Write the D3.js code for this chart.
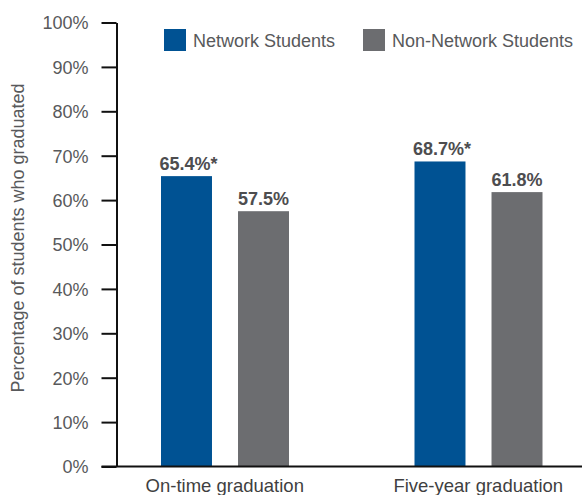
<!DOCTYPE html>
<html>
<head>
<meta charset="utf-8">
<script src="https://cdn.jsdelivr.net/npm/d3@7"></script>
<style>
  body { margin: 0; background: #fff; }
  svg { display: block; font-family: "Liberation Sans", Arial, sans-serif; }
</style>
</head>
<body>
<svg id="chart"></svg>
<script>
// Chart data
const categories = ["On-time graduation", "Five-year graduation"];
const series = ["Network Students", "Non-Network Students"];
const networkValues = [65.4, 68.7];
const nonNetworkValues = [57.5, 61.8];
const valueLabels = [["65.4%*", "57.5%"], ["68.7%*", "61.8%"]];
const yTicks = [0, 10, 20, 30, 40, 50, 60, 70, 80, 90, 100];
const colors = ["#005293", "#6c6d70"];

const width = 582, height = 495;
const svg = d3.select("#chart")
    .attr("width", width)
    .attr("height", height);

// Scales
const y = d3.scaleLinear().domain([0, 100]).range([466.5, 22.5]);
const x0 = d3.scaleBand().domain(categories).range([98, 605]);
const x1 = d3.scaleBand().domain(series).range([63, 191]).paddingInner(0.338);
const color = d3.scaleOrdinal().domain(series).range(colors);

const axisX = 116.5;

// Y axis
const yAxis = svg.append("g")
    .attr("transform", `translate(${axisX},0)`)
    .call(d3.axisLeft(y)
        .tickValues(yTicks)
        .tickSize(15)
        .tickSizeOuter(0)
        .tickPadding(13)
        .tickFormat(d => d + "%"));
yAxis.select(".domain").attr("stroke", "#111").attr("stroke-width", 2);
yAxis.selectAll(".tick line").attr("stroke", "#111").attr("stroke-width", 2);
yAxis.selectAll(".tick text")
    .attr("fill", "#58595b")
    .style("font-size", "18px")
    .attr("dy", "0.36em");

// Bars
const rows = categories.map((c, i) => ({
    category: c,
    values: [networkValues[i], nonNetworkValues[i]],
    labels: valueLabels[i]
}));

const groups = svg.selectAll("g.group")
    .data(rows)
    .enter().append("g")
    .attr("class", "group")
    .attr("transform", d => `translate(${x0(d.category)},0)`);

groups.selectAll("rect")
    .data(d => series.map((s, j) => ({ s, v: d.values[j] })))
    .enter().append("rect")
    .attr("x", d => x1(d.s))
    .attr("width", x1.bandwidth())
    .attr("y", d => y(d.v))
    .attr("height", d => y(0) - y(d.v))
    .attr("fill", d => color(d.s));

groups.selectAll("text.value")
    .data(d => series.map((s, j) => ({ s, v: d.values[j], label: d.labels[j] })))
    .enter().append("text")
    .attr("class", "value")
    .attr("x", d => x1(d.s) + x1.bandwidth() / 2 + (d.label.endsWith("*") ? 2 : 0))
    .attr("y", d => y(d.v) - 6)
    .attr("text-anchor", "middle")
    .attr("fill", "#4d4d4f")
    .style("font-size", "18px")
    .style("font-weight", "bold")
    .text(d => d.label);

// Baseline
svg.append("line")
    .attr("x1", 101.5).attr("x2", width)
    .attr("y1", y(0)).attr("y2", y(0))
    .attr("stroke", "#111").attr("stroke-width", 2);

// Category labels
svg.selectAll("text.cat")
    .data(categories)
    .enter().append("text")
    .attr("class", "cat")
    .attr("x", d => x0(d) + x0.bandwidth() / 2)
    .attr("y", 492)
    .attr("text-anchor", "middle")
    .attr("fill", "#3f3f41")
    .style("font-size", "18.5px")
    .text(d => d);

// Y axis title
svg.append("text")
    .attr("transform", "translate(24,238) rotate(-90)")
    .attr("text-anchor", "middle")
    .attr("fill", "#58595b")
    .style("font-size", "18px")
    .text("Percentage of students who graduated");

// Legend
const legendX = [164, 363];
const legend = svg.selectAll("g.legend")
    .data(series)
    .enter().append("g")
    .attr("class", "legend")
    .attr("transform", (d, i) => `translate(${legendX[i]},29)`);
legend.append("rect")
    .attr("width", 22).attr("height", 22)
    .attr("fill", d => color(d));
legend.append("text")
    .attr("x", 29).attr("y", 17.5)
    .attr("fill", "#58595b")
    .style("font-size", "18px")
    .text(d => d);
</script>
</body>
</html>
